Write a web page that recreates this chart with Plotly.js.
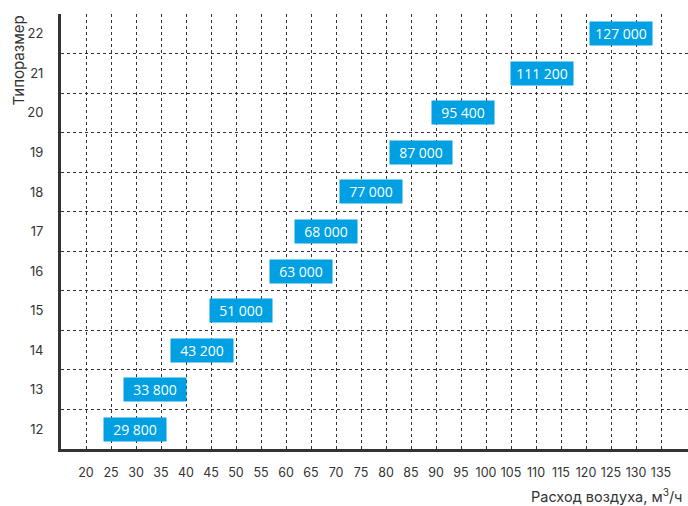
<!DOCTYPE html>
<html>
<head>
<meta charset="utf-8">
<script src="https://cdn.plot.ly/plotly-3.0.1.min.js"></script>
<style>html,body{margin:0;padding:0;background:#fff;}#chart{width:688px;height:506px;}</style>
</head>
<body>
<div id="chart"></div>
<script>
// Data
var sizes = [12, 13, 14, 15, 16, 17, 18, 19, 20, 21, 22];
var airflow = [29800, 33800, 43200, 51000, 63000, 68000, 77000, 87000, 95400, 111200, 127000];
var xTicks = [20,25,30,35,40,45,50,55,60,65,70,75,80,85,90,95,100,105,110,115,120,125,130,135];

function fmt(v){ return String(v).replace(/\B(?=(\d{3})+(?!\d))/g, ' '); }

var annotations = sizes.map(function(s, i){
  return {
    x: airflow[i] / 1000, y: s, xref: 'x', yref: 'y',
    text: fmt(airflow[i]), showarrow: false,
    bgcolor: '#00A0E3', width: 62, height: 23, borderpad: 0,
    font: {family: 'Open Sans, sans-serif', size: 14, color: '#ffffff'},
    xanchor: 'center', yanchor: 'middle'
  };
});
annotations.push({
  xref: 'paper', yref: 'paper', x: 1, y: 0, yshift: -35, xshift: -3,
  xanchor: 'right', yanchor: 'top', showarrow: false,
  text: 'Расход воздуха, м<sup>3</sup>/ч',
  font: {family: 'Inter, Roboto, sans-serif', size: 14.5, color: '#333333'}
});
annotations.push({
  xref: 'paper', yref: 'paper', x: 0, y: 1, xshift: -32, yshift: 0,
  xanchor: 'right', yanchor: 'top', showarrow: false, textangle: -90,
  text: 'Типоразмер',
  font: {family: 'Inter, Roboto, sans-serif', size: 15, color: '#333333'}
});

var trace = {
  x: airflow.map(function(v){ return v/1000; }), y: sizes,
  type: 'scatter', mode: 'markers', marker: {opacity: 0}, hoverinfo: 'skip', showlegend: false
};

var layout = {
  width: 688, height: 506,
  margin: {l: 61, r: 0, t: 14, b: 57},
  paper_bgcolor: '#ffffff', plot_bgcolor: '#ffffff',
  xaxis: {
    range: [15, 140.4], tickmode: 'array', tickvals: xTicks, ticktext: xTicks.map(String),
    showgrid: true, gridcolor: '#333333', gridwidth: 1, griddash: '3px,3px',
    zeroline: false, showline: true, linecolor: '#333333', linewidth: 3,
    ticks: '', ticklabelstandoff: 10,
    tickfont: {family: 'Inter, Roboto, sans-serif', size: 12.5, color: '#333333'}
  },
  yaxis: {
    range: [11.5, 22.5], tickmode: 'array', tickvals: sizes, ticktext: sizes.map(String),
    showgrid: false,
    minor: {tickmode: 'linear', tick0: 12.5, dtick: 1, showgrid: true, gridcolor: '#333333', gridwidth: 1, griddash: '3px,3px', ticks: ''},
    zeroline: false, showline: true, linecolor: '#333333', linewidth: 3,
    ticks: '', ticklabelstandoff: 12,
    tickfont: {family: 'Inter, Roboto, sans-serif', size: 13, color: '#333333'}
  },
  annotations: annotations
};

Plotly.newPlot('chart', [trace], layout, {staticPlot: true, displayModeBar: false});
</script>
</body>
</html>
